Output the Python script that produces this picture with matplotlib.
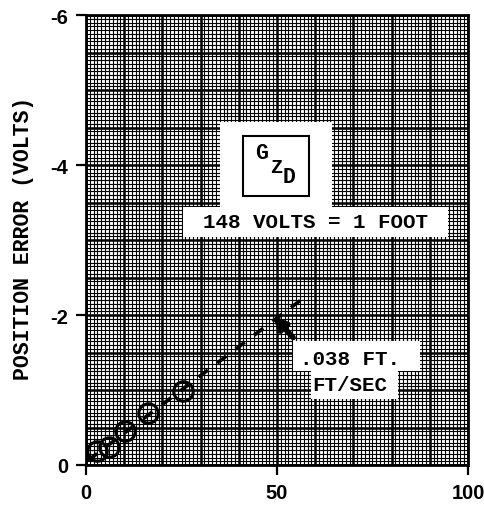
import numpy as np
import matplotlib
matplotlib.use("Agg")
import matplotlib.pyplot as plt
from matplotlib.patches import Rectangle

# measured points (speed vs position error)
speed = [3.0, 6.0, 10.2, 16.3, 25.5]
pos_error = [-0.19, -0.24, -0.46, -0.70, -0.99]

# dashed fit line end points
fit_x = [0.5, 57.8]
fit_y = [-0.06, -2.26]

x_ticks = [0, 50, 100]
x_labels = ["0", "50", "100"]
y_ticks = [0, -2, -4, -6]
y_labels = ["0", "-2", "-4", "-6"]

mono = "Liberation Mono"
sans = "Liberation Sans"

fig = plt.figure(figsize=(4.85, 5.06), dpi=100)
ax = fig.add_axes([86 / 485, 40 / 506, 382 / 485, 450 / 506])
ax.set_xlim(0, 100)
ax.set_ylim(0, -6)

# graph paper grid
ax.vlines(np.arange(0, 101, 1), 0, -6, color="black", lw=0.8, zorder=1)
ax.hlines(np.arange(0, -6.01, -0.05), 0, 100, color="black", lw=0.8, zorder=1)
ax.vlines(np.arange(0, 101, 10), 0, -6, color="black", lw=1.8, zorder=1)
ax.hlines(np.arange(0, -6.01, -0.5), 0, 100, color="black", lw=1.8, zorder=1)

# white label patches
ax.add_patch(Rectangle((35.1, -4.573), 29.3, 1.14, fc="white", ec="none", zorder=2))
ax.add_patch(Rectangle((25.4, -3.44), 69.4, 0.40, fc="white", ec="none", zorder=2))
ax.add_patch(Rectangle((41.1, -4.387), 17.3, 0.80, fc="none", ec="black", lw=1.5, zorder=3))
ax.add_patch(Rectangle((54.2, -1.653), 33.2, 0.40, fc="white", ec="none", zorder=2))
ax.add_patch(Rectangle((58.8, -1.253), 22.8, 0.375, fc="white", ec="none", zorder=2))

ax.text(46.0, -4.17, "G", family=mono, weight="bold", fontsize=15.5,
        ha="center", va="center", zorder=4)
ax.text(49.7, -3.98, "Z", family=mono, weight="bold", fontsize=14.5,
        ha="center", va="center", zorder=4)
ax.text(53.2, -3.85, "D", family=mono, weight="bold", fontsize=15.5,
        ha="center", va="center", zorder=4)
ax.text(60.0, -3.24, "148 VOLTS = 1 FOOT", family=mono, weight="bold",
        fontsize=15, ha="center", va="center", zorder=4)
ax.text(69.0, -1.42, ".038 FT.", family=mono, weight="bold",
        fontsize=15, ha="center", va="center", zorder=4)
ax.text(69.0, -1.07, "FT/SEC", family=mono, weight="bold",
        fontsize=15, ha="center", va="center", zorder=4)

# data
ax.plot(fit_x, fit_y, color="black", lw=2.6, ls=(0, (3.2, 3.2)), zorder=5)
ax.plot(speed, pos_error, "o", ms=14, mfc="none", mec="black", mew=2.2, zorder=6)

ax.annotate("", xy=(49.0, -1.99), xytext=(54.2, -1.70),
            arrowprops=dict(arrowstyle="-|>", lw=4.0, color="black",
                            mutation_scale=18, shrinkA=0, shrinkB=0),
            zorder=6)

ax.set_xticks(x_ticks)
ax.set_xticklabels(x_labels)
ax.set_yticks(y_ticks)
ax.set_yticklabels(y_labels)
ax.tick_params(direction="out", length=7, width=1.6, pad=6, labelsize=14.5)
for lab in ax.get_xticklabels() + ax.get_yticklabels():
    lab.set_family(sans)
    lab.set_weight("bold")

for sp in ax.spines.values():
    sp.set_linewidth(2.0)
    sp.set_zorder(7)

ax.set_ylabel("POSITION ERROR (VOLTS)", family=mono, weight="bold",
              fontsize=15.5)
ax.yaxis.set_label_coords(-0.135, 0.505)

fig.savefig("out.png", dpi=100)
